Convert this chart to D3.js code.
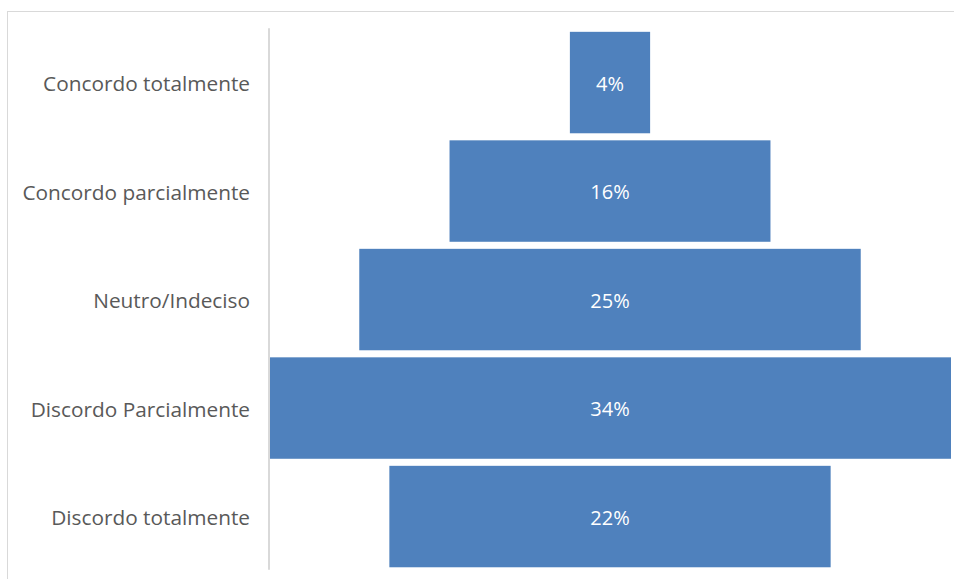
<!DOCTYPE html>
<html>
<head>
<meta charset="utf-8">
<script src="https://cdn.jsdelivr.net/npm/d3@7"></script>
<style>
  html, body { margin: 0; padding: 0; background: #fff; }
  svg { display: block; }
</style>
</head>
<body>
<svg id="chart" width="954" height="579"></svg>
<script>
// Response categories (top to bottom) and their share of answers
const categories = [
  "Concordo totalmente",
  "Concordo parcialmente",
  "Neutro/Indeciso",
  "Discordo Parcialmente",
  "Discordo totalmente"
];
const values = [0.04, 0.16, 0.25, 0.34, 0.22];

const width = 954, height = 579;
const plot = { left: 269, right: 951, top: 28.3, bottom: 570.8 };
const barColor = "#4F81BD";
const fontFamily = "'Open Sans', 'Noto Sans', sans-serif";

const svg = d3.select("#chart");

// outer chart frame
svg.append("rect")
  .attr("x", 7.5).attr("y", 11.5)
  .attr("width", width + 20).attr("height", height + 20)
  .attr("fill", "none")
  .attr("stroke", "#d9d9d9")
  .attr("stroke-width", 1);

const data = categories.map((c, i) => ({ category: c, value: values[i] }));
const maxVal = d3.max(values);

const y = d3.scaleBand()
  .domain(categories)
  .range([plot.top, plot.bottom])
  .paddingInner(0.065)
  .paddingOuter(0.0325);

const x = d3.scaleLinear()
  .domain([0, maxVal])
  .range([plot.left, plot.right]);

// bars centred on the widest bar (funnel layout)
svg.append("g")
  .selectAll("rect")
  .data(data)
  .join("rect")
  .attr("x", d => x((maxVal - d.value) / 2))
  .attr("y", d => y(d.category))
  .attr("width", d => x(d.value) - x(0))
  .attr("height", y.bandwidth())
  .attr("fill", barColor);

// category axis
const yAxis = svg.append("g")
  .attr("transform", `translate(${plot.left},0)`)
  .call(d3.axisLeft(y).tickSize(0).tickPadding(19));
yAxis.select(".domain")
  .attr("stroke", "#d9d9d9")
  .attr("stroke-width", 2)
  .attr("d", `M0,${plot.top}V${plot.bottom - 1}`);
yAxis.selectAll("text")
  .attr("fill", "#595959")
  .attr("dy", "0.42em")
  .style("font-family", fontFamily)
  .style("font-size", "20.8px");

// value labels
const pct = d3.format(".0%");
svg.append("g")
  .selectAll("text")
  .data(data)
  .join("text")
  .attr("x", x(maxVal / 2))
  .attr("y", d => y(d.category) + y.bandwidth() / 2)
  .attr("dy", "0.4em")
  .attr("text-anchor", "middle")
  .attr("fill", "#ffffff")
  .style("font-family", fontFamily)
  .style("font-size", "20px")
  .text(d => pct(d.value));
</script>
</body>
</html>
